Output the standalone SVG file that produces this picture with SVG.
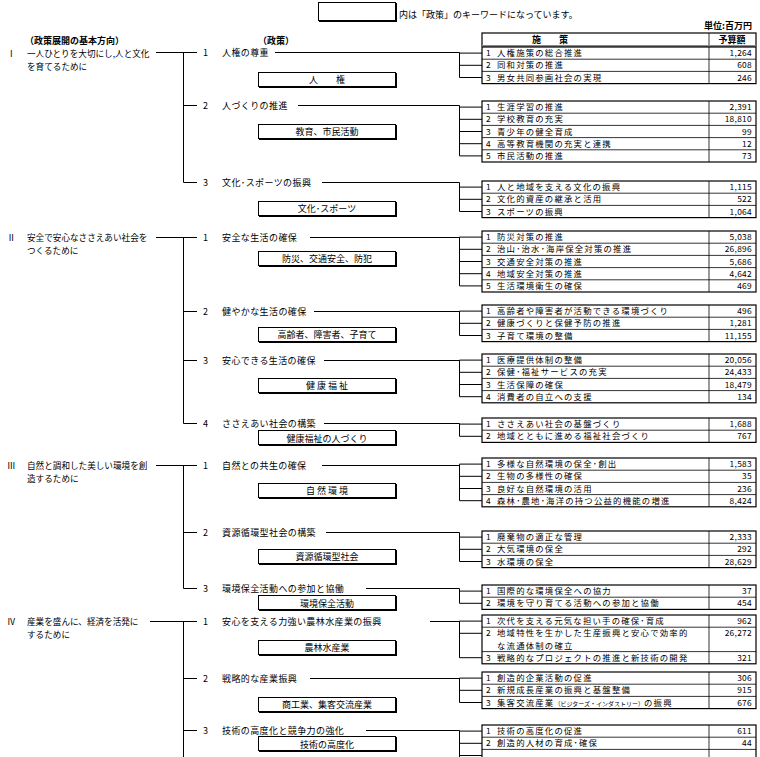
<svg xmlns="http://www.w3.org/2000/svg" width="760" height="757" viewBox="0 0 760 757">
<style>
text{font-family:"Noto Sans CJK JP","Noto Sans CJK SC",sans-serif;font-size:9px;fill:#000}
.b{font-weight:bold}
.n{text-anchor:end}
.c{text-anchor:middle}
.d{font-size:8.6px}
.p{letter-spacing:0.4px}
#tables text{font-size:8.4px;letter-spacing:1.2px}
#tables text.n{letter-spacing:0.3px}
#tables text.h{font-size:9px;letter-spacing:0}
.ln{stroke:#000;stroke-width:1;fill:none}
.tb{fill:#fff;stroke:#000;stroke-width:1.2}
.rl{stroke:#000;stroke-width:0.8}
.kb{fill:#fff;stroke:#000;stroke-width:1}
.ks{fill:none;stroke:#000;stroke-width:2}
</style>
<rect width="760" height="757" fill="#fff"/>
<g id="legend">
<rect class="kb" x="318.5" y="2.5" width="77" height="18"/>
<path class="ks" d="M396,3V21H319"/>
<text x="399" y="17.5">内は「政策」のキーワードになっています。</text>
<text class="b" x="704" y="29">単位:百万円</text>
<text class="b" x="25" y="43.5">（政策展開の基本方向）</text>
<text class="b" x="258" y="43.5">（政策）</text>
</g>
<g id="directions">
<g id="dir1"><text class="d" x="7" y="56.5">Ⅰ</text><text class="d" x="27" y="56.5">一人ひとりを大切にし,人と文化</text><text class="d" x="27" y="69.5">を育てるために</text></g>
<g id="dir2"><text class="d" x="7" y="241">Ⅱ</text><text class="d" x="27" y="241">安全で安心なささえあい社会を</text><text class="d" x="27" y="254">つくるために</text></g>
<g id="dir3"><text class="d" x="7" y="469">Ⅲ</text><text class="d" x="27" y="469">自然と調和した美しい環境を創</text><text class="d" x="27" y="482">造するために</text></g>
<g id="dir4"><text class="d" x="7" y="625">Ⅳ</text><text class="d" x="27" y="625">産業を盛んに、経済を活発に</text><text class="d" x="27" y="638">するために</text></g>
</g>
<g id="connectors">
<path class="ln" d="M156,52.5H197M183.5,52.5V182.5M183.5,105.5H197M183.5,182.5H197"/>
<path class="ln" d="M156,237.5H197M183.5,237.5V423.5M183.5,311.5H197M183.5,360.5H197M183.5,423.5H197"/>
<path class="ln" d="M156,465.5H197M183.5,465.5V588.5M183.5,532.5H197M183.5,588.5H197"/>
<path class="ln" d="M150,621.5H197M183.5,621.5V757M183.5,678.5H197M183.5,730.5H197"/>
<path class="ln" d="M275,52.5H459.5V77.5H482M459.5,65.3H482M459.5,53.1H482"/>
<path class="ln" d="M298,105.5H459.5M459.5,105.5V155.9H482M459.5,107.1H482M459.5,119.3H482M459.5,131.5H482M459.5,143.7H482"/>
<path class="ln" d="M322,182.5H459.5M459.5,182.5V211.5H482M459.5,187.1H482M459.5,199.3H482"/>
<path class="ln" d="M310,237.5H459.5M459.5,237.1V285.9H482M459.5,237.1H482M459.5,249.3H482M459.5,261.5H482M459.5,273.7H482"/>
<path class="ln" d="M314,311.5H459.5M459.5,311.1V335.5H482M459.5,311.1H482M459.5,323.3H482"/>
<path class="ln" d="M324,360.5H459.5M459.5,360.1V396.7H482M459.5,360.1H482M459.5,372.3H482M459.5,384.5H482"/>
<path class="ln" d="M324,423.5H459.5M459.5,423.5V436.3H482M459.5,424.1H482"/>
<path class="ln" d="M322,465.5H459.5M459.5,464.1V500.7H482M459.5,464.1H482M459.5,476.3H482M459.5,488.5H482"/>
<path class="ln" d="M326,532.5H459.5M459.5,532.5V561.5H482M459.5,537.1H482M459.5,549.3H482"/>
<path class="ln" d="M366,588.5H459.5M459.5,588.5V603.3H482M459.5,591.1H482"/>
<path class="ln" d="M430,621.5H459.5M459.5,621.1V657.7H482M459.5,621.1H482M459.5,633.3H482"/>
<path class="ln" d="M310,678.5H459.5M459.5,678.1V702.5H482M459.5,678.1H482M459.5,690.3H482"/>
<path class="ln" d="M366,730.5H459.5M459.5,730.5V757M459.5,731.1H482M459.5,743.3H482M459.5,755.5H482"/>
</g>
<g id="policies">
<g id="p1-1"><text x="203" y="56">1</text><text class="p" x="222" y="56">人権の尊重</text><rect class="kb" x="258.5" y="72.5" width="137" height="14"/><path class="ks" d="M396,73V87H259"/><text class="c" x="327" y="83">人　　権</text></g>
<g id="p1-2"><text x="203" y="109">2</text><text class="p" x="222" y="109">人づくりの推進</text><rect class="kb" x="258.5" y="124.5" width="137" height="14"/><path class="ks" d="M396,125V139H259"/><text class="c" x="327" y="135">教育、市民活動</text></g>
<g id="p1-3"><text x="203" y="186">3</text><text class="p" x="222" y="186">文化･スポーツの振興</text><rect class="kb" x="258.5" y="201.5" width="137" height="14"/><path class="ks" d="M396,202V216H259"/><text class="c" x="327" y="212">文化･スポーツ</text></g>
<g id="p2-1"><text x="203" y="241">1</text><text class="p" x="222" y="241">安全な生活の確保</text><rect class="kb" x="258.5" y="251.5" width="137" height="14"/><path class="ks" d="M396,252V266H259"/><text class="c" x="327" y="262">防災、交通安全、防犯</text></g>
<g id="p2-2"><text x="203" y="315">2</text><text class="p" x="222" y="315">健やかな生活の確保</text><rect class="kb" x="258.5" y="327.5" width="137" height="14"/><path class="ks" d="M396,328V342H259"/><text class="c" x="327" y="338">高齢者、障害者、子育て</text></g>
<g id="p2-3"><text x="203" y="364">3</text><text class="p" x="222" y="364">安心できる生活の確保</text><rect class="kb" x="258.5" y="378.5" width="137" height="14"/><path class="ks" d="M396,379V393H259"/><text class="c" x="327" y="389">健 康 福 祉</text></g>
<g id="p2-4"><text x="203" y="427">4</text><text class="p" x="222" y="427">ささえあい社会の構築</text><rect class="kb" x="258.5" y="430.5" width="137" height="14"/><path class="ks" d="M396,431V445H259"/><text class="c" x="327" y="441.5">健康福祉の人づくり</text></g>
<g id="p3-1"><text x="203" y="469">1</text><text class="p" x="222" y="469">自然との共生の確保</text><rect class="kb" x="258.5" y="483.5" width="137" height="14"/><path class="ks" d="M396,484V498H259"/><text class="c" x="327" y="494">自 然 環 境</text></g>
<g id="p3-2"><text x="203" y="536">2</text><text class="p" x="222" y="536">資源循環型社会の構築</text><rect class="kb" x="258.5" y="549.5" width="137" height="14"/><path class="ks" d="M396,550V564H259"/><text class="c" x="327" y="560">資源循環型社会</text></g>
<g id="p3-3"><text x="203" y="592">3</text><text class="p" x="222" y="592">環境保全活動への参加と協働</text><rect class="kb" x="258.5" y="595.5" width="137" height="14"/><path class="ks" d="M396,596V610H259"/><text class="c" x="327" y="606.5">環境保全活動</text></g>
<g id="p4-1"><text x="203" y="625">1</text><text class="p" x="222" y="625">安心を支える力強い農林水産業の振興</text><rect class="kb" x="258.5" y="640.5" width="137" height="14"/><path class="ks" d="M396,641V655H259"/><text class="c" x="327" y="651">農林水産業</text></g>
<g id="p4-2"><text x="203" y="682">2</text><text class="p" x="222" y="682">戦略的な産業振興</text><rect class="kb" x="258.5" y="697.5" width="137" height="14"/><path class="ks" d="M396,698V712H259"/><text class="c" x="327" y="708">商工業、集客交流産業</text></g>
<g id="p4-3"><text x="203" y="734">3</text><text class="p" x="222" y="734">技術の高度化と競争力の強化</text><rect class="kb" x="258.5" y="736.5" width="137" height="14"/><path class="ks" d="M396,737V751H259"/><text class="c" x="327" y="747.5">技術の高度化</text></g>
</g>
<g id="tables">
<g id="header">
<rect class="tb" x="482" y="33" width="274" height="13"/>
<line class="rl" x1="709" y1="33" x2="709" y2="46"/>
<line x1="482" y1="46" x2="756" y2="46" stroke="#888" stroke-width="2"/>
<text class="b c h" x="550" y="43">施　　策</text>
<text class="b c h" x="732" y="43">予算額</text>
</g>
<g id="t1-1">
<rect class="tb" x="482" y="47" width="274" height="36.6"/><path class="rl" d="M482,59.2H756M482,71.4H756M709,47V83.6"/>
<text x="486" y="56.2">1</text><text x="497" y="56.2">人権施策の総合推進</text><text class="n" x="752" y="56.2">1,264</text>
<text x="486" y="68.4">2</text><text x="497" y="68.4">同和対策の推進</text><text class="n" x="752" y="68.4">608</text>
<text x="486" y="80.6">3</text><text x="497" y="80.6">男女共同参画社会の実現</text><text class="n" x="752" y="80.6">246</text>
</g>
<g id="t1-2">
<rect class="tb" x="482" y="101" width="274" height="61"/><path class="rl" d="M482,113.2H756M482,125.4H756M482,137.6H756M482,149.8H756M709,101V162"/>
<text x="486" y="110.2">1</text><text x="497" y="110.2">生涯学習の推進</text><text class="n" x="752" y="110.2">2,391</text>
<text x="486" y="122.4">2</text><text x="497" y="122.4">学校教育の充実</text><text class="n" x="752" y="122.4">18,810</text>
<text x="486" y="134.6">3</text><text x="497" y="134.6">青少年の健全育成</text><text class="n" x="752" y="134.6">99</text>
<text x="486" y="146.8">4</text><text x="497" y="146.8">高等教育機関の充実と連携</text><text class="n" x="752" y="146.8">12</text>
<text x="486" y="159">5</text><text x="497" y="159">市民活動の推進</text><text class="n" x="752" y="159">73</text>
</g>
<g id="t1-3">
<rect class="tb" x="482" y="181" width="274" height="36.6"/><path class="rl" d="M482,193.2H756M482,205.4H756M709,181V217.6"/>
<text x="486" y="190.2">1</text><text x="497" y="190.2">人と地域を支える文化の振興</text><text class="n" x="752" y="190.2">1,115</text>
<text x="486" y="202.4">2</text><text x="497" y="202.4">文化的資産の継承と活用</text><text class="n" x="752" y="202.4">522</text>
<text x="486" y="214.6">3</text><text x="497" y="214.6">スポーツの振興</text><text class="n" x="752" y="214.6">1,064</text>
</g>
<g id="t2-1">
<rect class="tb" x="482" y="231" width="274" height="61"/><path class="rl" d="M482,243.2H756M482,255.4H756M482,267.6H756M482,279.8H756M709,231V292"/>
<text x="486" y="240.2">1</text><text x="497" y="240.2">防災対策の推進</text><text class="n" x="752" y="240.2">5,038</text>
<text x="486" y="252.4">2</text><text x="497" y="252.4">治山･治水･海岸保全対策の推進</text><text class="n" x="752" y="252.4">26,896</text>
<text x="486" y="264.6">3</text><text x="497" y="264.6">交通安全対策の推進</text><text class="n" x="752" y="264.6">5,686</text>
<text x="486" y="276.8">4</text><text x="497" y="276.8">地域安全対策の推進</text><text class="n" x="752" y="276.8">4,642</text>
<text x="486" y="289">5</text><text x="497" y="289">生活環境衛生の確保</text><text class="n" x="752" y="289">469</text>
</g>
<g id="t2-2">
<rect class="tb" x="482" y="305" width="274" height="36.6"/><path class="rl" d="M482,317.2H756M482,329.4H756M709,305V341.6"/>
<text x="486" y="314.2">1</text><text x="497" y="314.2">高齢者や障害者が活動できる環境づくり</text><text class="n" x="752" y="314.2">496</text>
<text x="486" y="326.4">2</text><text x="497" y="326.4">健康づくりと保健予防の推進</text><text class="n" x="752" y="326.4">1,281</text>
<text x="486" y="338.6">3</text><text x="497" y="338.6">子育て環境の整備</text><text class="n" x="752" y="338.6">11,155</text>
</g>
<g id="t2-3">
<rect class="tb" x="482" y="354" width="274" height="48.8"/><path class="rl" d="M482,366.2H756M482,378.4H756M482,390.6H756M709,354V402.8"/>
<text x="486" y="363.2">1</text><text x="497" y="363.2">医療提供体制の整備</text><text class="n" x="752" y="363.2">20,056</text>
<text x="486" y="375.4">2</text><text x="497" y="375.4">保健･福祉サービスの充実</text><text class="n" x="752" y="375.4">24,433</text>
<text x="486" y="387.6">3</text><text x="497" y="387.6">生活保障の確保</text><text class="n" x="752" y="387.6">18,479</text>
<text x="486" y="399.8">4</text><text x="497" y="399.8">消費者の自立への支援</text><text class="n" x="752" y="399.8">134</text>
</g>
<g id="t2-4">
<rect class="tb" x="482" y="418" width="274" height="24.4"/><path class="rl" d="M482,430.2H756M709,418V442.4"/>
<text x="486" y="427.2">1</text><text x="497" y="427.2">ささえあい社会の基盤づくり</text><text class="n" x="752" y="427.2">1,688</text>
<text x="486" y="439.4">2</text><text x="497" y="439.4">地域とともに進める福祉社会づくり</text><text class="n" x="752" y="439.4">767</text>
</g>
<g id="t3-1">
<rect class="tb" x="482" y="458" width="274" height="48.8"/><path class="rl" d="M482,470.2H756M482,482.4H756M482,494.6H756M709,458V506.8"/>
<text x="486" y="467.2">1</text><text x="497" y="467.2">多様な自然環境の保全･創出</text><text class="n" x="752" y="467.2">1,583</text>
<text x="486" y="479.4">2</text><text x="497" y="479.4">生物の多様性の確保</text><text class="n" x="752" y="479.4">35</text>
<text x="486" y="491.6">3</text><text x="497" y="491.6">良好な自然環境の活用</text><text class="n" x="752" y="491.6">236</text>
<text x="486" y="503.8">4</text><text x="497" y="503.8">森林･農地･海洋の持つ公益的機能の増進</text><text class="n" x="752" y="503.8">8,424</text>
</g>
<g id="t3-2">
<rect class="tb" x="482" y="531" width="274" height="36.6"/><path class="rl" d="M482,543.2H756M482,555.4H756M709,531V567.6"/>
<text x="486" y="540.2">1</text><text x="497" y="540.2">廃棄物の適正な管理</text><text class="n" x="752" y="540.2">2,333</text>
<text x="486" y="552.4">2</text><text x="497" y="552.4">大気環境の保全</text><text class="n" x="752" y="552.4">292</text>
<text x="486" y="564.6">3</text><text x="497" y="564.6">水環境の保全</text><text class="n" x="752" y="564.6">28,629</text>
</g>
<g id="t3-3">
<rect class="tb" x="482" y="585" width="274" height="24.4"/><path class="rl" d="M482,597.2H756M709,585V609.4"/>
<text x="486" y="594.2">1</text><text x="497" y="594.2">国際的な環境保全への協力</text><text class="n" x="752" y="594.2">37</text>
<text x="486" y="606.4">2</text><text x="497" y="606.4">環境を守り育てる活動への参加と協働</text><text class="n" x="752" y="606.4">454</text>
</g>
<g id="t4-1">
<rect class="tb" x="482" y="615" width="274" height="48.8"/><path class="rl" d="M482,627.2H756M482,651.6H756M709,615V663.8"/>
<text x="486" y="624.2">1</text><text x="497" y="624.2">次代を支える元気な担い手の確保･育成</text><text class="n" x="752" y="624.2">962</text>
<text x="486" y="636.4">2</text><text x="497" y="636.4">地域特性を生かした生産振興と安心で効率的</text><text class="n" x="752" y="636.4">26,272</text>
<text x="497" y="648.6">な流通体制の確立</text>
<text x="486" y="660.8">3</text><text x="497" y="660.8">戦略的なプロジェクトの推進と新技術の開発</text><text class="n" x="752" y="660.8">321</text>
</g>
<g id="t4-2">
<rect class="tb" x="482" y="672" width="274" height="36.6"/><path class="rl" d="M482,684.2H756M482,696.4H756M709,672V708.6"/>
<text x="486" y="681.2">1</text><text x="497" y="681.2">創造的企業活動の促進</text><text class="n" x="752" y="681.2">306</text>
<text x="486" y="693.4">2</text><text x="497" y="693.4">新規成長産業の振興と基盤整備</text><text class="n" x="752" y="693.4">915</text>
<text x="486" y="705.6">3</text><text x="497" y="705.6">集客交流産業<tspan font-size="6px" letter-spacing="0">（ビジターズ・インダストリー）</tspan>の振興</text><text class="n" x="752" y="705.6">676</text>
</g>
<g id="t4-3">
<rect class="tb" x="482" y="725" width="274" height="36.6"/><path class="rl" d="M482,737.2H756M482,749.4H756M709,725V761.6"/>
<text x="486" y="734.2">1</text><text x="497" y="734.2">技術の高度化の促進</text><text class="n" x="752" y="734.2">611</text>
<text x="486" y="746.4">2</text><text x="497" y="746.4">創造的人材の育成･確保</text><text class="n" x="752" y="746.4">44</text>
</g>
</g>
</svg>
